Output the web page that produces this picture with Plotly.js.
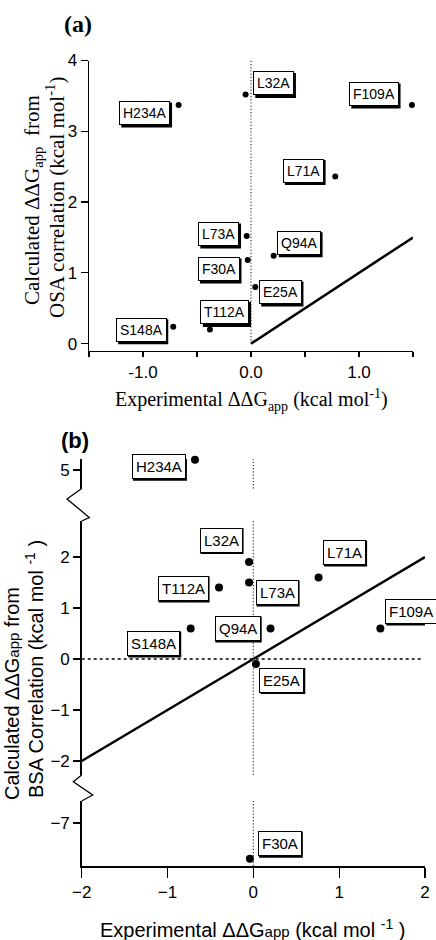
<!DOCTYPE html>
<html>
<head>
<meta charset="utf-8">
<script src="https://cdn.plot.ly/plotly-3.0.1.min.js"></script>
<style>html,body{margin:0;padding:0;background:#fff;}#chart{width:436px;height:940px;}</style>
</head>
<body>
<div id="chart"></div>
<script>
// ---------- DATA ----------
const mutantsA = ["H234A","L32A","F109A","L71A","L73A","Q94A","F30A","E25A","T112A","S148A"];
const expA     = [-0.67, -0.05, 1.49, 0.78, -0.04, 0.21, -0.03, 0.04, -0.38, -0.72];
const calcOSA  = [3.37, 3.52, 3.37, 2.36, 1.52, 1.24, 1.18, 0.80, 0.20, 0.24];

const mutantsB = ["H234A","L32A","L71A","T112A","L73A","S148A","Q94A","F109A","E25A","F30A"];
const expB     = [-0.68, -0.05, 0.76, -0.40, -0.05, -0.73, 0.20, 1.48, 0.03, -0.04];
const calcBSA  = [5.2, 1.9, 1.6, 1.4, 1.5, 0.6, 0.6, 0.6, -0.1, -7.7];

const identA_x = [0, 1.5], identA_y = [0, 1.5];
const identB_x = [-2, 2],  identB_y = [-2, 2];

const tickValsAx = [-1, 0, 1];
const tickTextAx = ["-1.0", "0.0", "1.0"];
const tickValsAy = [0, 1, 2, 3, 4];
const tickValsBx = [-2, -1, 0, 1, 2];
const tickValsBtop = [5];
const tickValsBmid = [-2, -1, 0, 1, 2];
const tickValsBbot = [-7];

// ---------- LAYOUT HELPERS ----------
const W = 436, H = 940;
const px = x => x / W;
const py = y => 1 - y / H;
const SANS = 'Arial, "Liberation Sans", sans-serif';
const SERIF = '"Times New Roman", "Liberation Serif", serif';

// label offsets in pixels (dx right, dy down) from each point
const offA = {H234A:[-34,8], L32A:[28,-11], F109A:[-38,-11], L71A:[-32,-6], L73A:[-28,-2],
              Q94A:[25,-13], F30A:[-29,9], E25A:[25,5], T112A:[15,-17], S148A:[-32,3]};
const offB = {H234A:[-36,7], L32A:[-28,-22], L71A:[26,-25], T112A:[-36,1], L73A:[28,10],
              S148A:[-37,15], Q94A:[-33,0], F109A:[31,-17], E25A:[26,16], F30A:[30,-15]};

function segAxis(v){ return v > 4 ? 'y2' : (v < -5 ? 'y4' : 'y3'); }

const traces = [];
traces.push({x: identA_x, y: identA_y, xaxis:'x', yaxis:'y', mode:'lines',
  line:{color:'black', width:2.5}, hoverinfo:'skip', showlegend:false});
traces.push({x: expA, y: calcOSA, xaxis:'x', yaxis:'y', mode:'markers', cliponaxis:false,
  marker:{color:'black', size:6}, showlegend:false});
traces.push({x: identB_x, y: identB_y, xaxis:'x2', yaxis:'y3', mode:'lines',
  line:{color:'black', width:2.5}, hoverinfo:'skip', showlegend:false});
['y2','y3','y4'].forEach(ax => {
  const xs = [], ys = [];
  calcBSA.forEach((v,i) => { if (segAxis(v) === ax) { xs.push(expB[i]); ys.push(v); } });
  traces.push({x: xs, y: ys, xaxis:'x2', yaxis:ax, mode:'markers', cliponaxis:false,
    marker:{color:'black', size:8}, showlegend:false});
});

const ctx = document.createElement('canvas').getContext('2d');
function textW(t, fs){ ctx.font = fs + 'px "Liberation Sans", Arial, sans-serif'; return ctx.measureText(t).width; }

const annotations = [];
const shapes = [];
function addBox(text, x, y, xref, yref, off, fs, shadow){
  const w = textW(text, fs) + 8, h = Math.round(fs * 1.2) + 8;
  // drop shadow of the label box
  shapes.push({type:'rect', layer:'above', xref:xref, yref:yref, xsizemode:'pixel', ysizemode:'pixel',
    xanchor:x, yanchor:y,
    x0: off[0] - w/2 + shadow, x1: off[0] + w/2 + shadow,
    y0: -off[1] - h/2 - shadow, y1: -off[1] + h/2 - shadow,
    fillcolor:'black', line:{width:0}});
  annotations.push({text:text, x:x, y:y, xref:xref, yref:yref, showarrow:false,
    xanchor:'center', yanchor:'middle', borderpad:3, borderwidth:1,
    xshift:off[0], yshift:-off[1], bgcolor:'white', bordercolor:'black',
    font:{family:SANS, size:fs, color:'black'}});
}
mutantsA.forEach((m,i) => addBox(m, expA[i], calcOSA[i], 'x', 'y', offA[m], 14, 2));
mutantsB.forEach((m,i) => addBox(m, expB[i], calcBSA[i], 'x2', segAxis(calcBSA[i]), offB[m], 15, 1));

function paperText(text, x, y, font, angle){
  annotations.push({text:text, x:px(x), y:py(y), xref:'paper', yref:'paper', showarrow:false,
    xanchor:'center', yanchor:'middle', textangle:angle||0, font:font});
}
paperText('<b>(a)</b>', 78, 24, {family:SERIF, size:24, color:'black'});
paperText('Calculated ΔΔG<sub>app</sub>  from', 33, 200, {family:SERIF, size:21, color:'black'}, -90);
paperText('OSA correlation (kcal mol<sup>-1</sup>)', 55, 198, {family:SERIF, size:21, color:'black'}, -90);
paperText('Experimental ΔΔG<sub>app</sub> (kcal mol<sup>-1</sup>)', 251, 400, {family:SERIF, size:20, color:'black'});

paperText('<b>(b)</b>', 75, 440, {family:SANS, size:22, color:'black'});
paperText('Calculated ΔΔG<span style="font-size:15px">app</span> from', 12, 694, {family:SANS, size:20, color:'black'}, -90);
paperText('BSA Correlation (kcal mol <sup>-1</sup> )', 34, 669, {family:SANS, size:20, color:'black'}, -90);
paperText('Experimental ΔΔG<span style="font-size:15px">app</span> (kcal mol <sup>-1</sup> )', 252, 928, {family:SANS, size:20, color:'black'});

function zig(pts){
  return 'M ' + pts.map(p => px(p[0]) + ',' + py(p[1])).join(' L ');
}
const DOT = {color:'#333', width:1.2, dash:'1.2px,2px'};
shapes.unshift(
  {type:'line', xref:'x', yref:'y', x0:0, x1:0, y0:0, y1:4, line:DOT},
  {type:'line', xref:'x2', yref:'y2 domain', x0:0, x1:0, y0:0, y1:1, line:DOT},
  {type:'line', xref:'x2', yref:'y3 domain', x0:0, x1:0, y0:0, y1:1, line:DOT},
  {type:'line', xref:'x2', yref:'y4 domain', x0:0, x1:0, y0:0, y1:1, line:DOT},
  {type:'line', xref:'x2', yref:'y3', x0:-2, x1:1.96, y0:0, y1:0, line:{color:'black', width:1.3, dash:'3px,3px'}},
  {type:'path', xref:'paper', yref:'paper', path: zig([[81.7,488.5],[67,499],[89.3,517.5],[81.7,521]]), line:{color:'black', width:1.3}},
  {type:'path', xref:'paper', yref:'paper', path: zig([[81.7,775],[73.3,781.7],[92.7,795],[81.7,801]]), line:{color:'black', width:1.3}}
);

const axBase = {showgrid:false, zeroline:false, showline:true, linecolor:'black', linewidth:1.5,
  ticks:'outside', tickcolor:'black', tickwidth:1.3, tickfont:{family:SANS, size:17, color:'black'}, fixedrange:true};

const layout = {
  width:W, height:H, autosize:false,
  margin:{l:0, r:0, t:0, b:0, pad:0},
  paper_bgcolor:'white', plot_bgcolor:'white',
  showlegend:false,
  xaxis: Object.assign({}, axBase, {domain:[px(89), px(413)], range:[-1.5, 1.5], anchor:'y',
    tickmode:'array', tickvals:tickValsAx, ticktext:tickTextAx, ticklen:5,
    minor:{tickmode:'linear', tick0:-1.5, dtick:0.5, ticks:'outside', ticklen:5, tickwidth:1.3, tickcolor:'black', showgrid:false}}),
  yaxis: Object.assign({}, axBase, {domain:[py(350.7), py(60.5)], range:[-0.1, 4], anchor:'x',
    tickmode:'array', tickvals:tickValsAy, ticklen:7}),
  xaxis2: Object.assign({}, axBase, {domain:[px(81.7), px(425)], range:[-2, 2], anchor:'y4',
    tickmode:'array', tickvals:tickValsBx, ticklen:10}),
  yaxis2: Object.assign({}, axBase, {domain:[py(488.5), py(459)], range:[4.637, 5.216], anchor:'x2',
    tickmode:'array', tickvals:tickValsBtop, ticklen:7}),
  yaxis3: Object.assign({}, axBase, {domain:[py(775), py(521)], range:[-2.275, 2.706], anchor:'x2',
    tickmode:'array', tickvals:tickValsBmid, ticklen:7}),
  yaxis4: Object.assign({}, axBase, {domain:[py(866), py(801)], range:[-7.843, -6.569], anchor:'x2',
    tickmode:'array', tickvals:tickValsBbot, ticklen:7}),
  annotations: annotations,
  shapes: shapes
};

Plotly.newPlot('chart', traces, layout, {staticPlot:true, displayModeBar:false});
</script>
</body>
</html>
